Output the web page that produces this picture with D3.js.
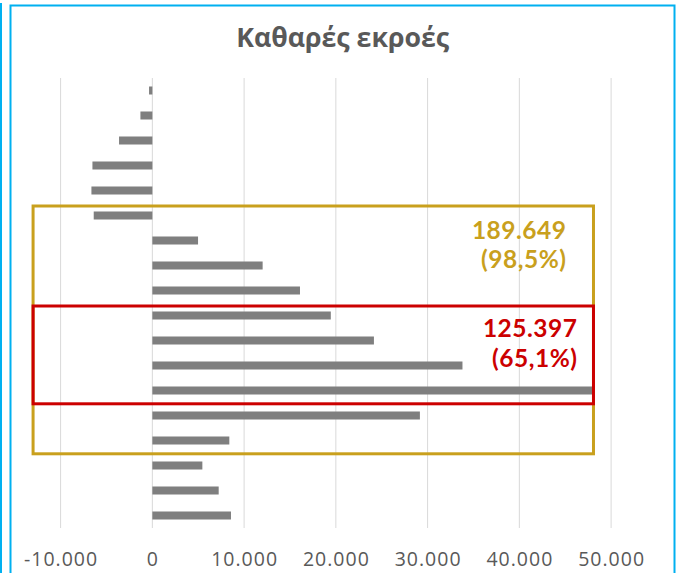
<!DOCTYPE html>
<html><head><meta charset="utf-8">
<script src="https://cdn.jsdelivr.net/npm/d3@7"></script>
<style>body{margin:0;background:#fff;} svg{display:block;}</style>
</head><body>
<svg id="chart" width="676" height="573"></svg>
<script>
// ---- data ----
const categories = ["1","2","3","4","5","6","7","8","9","10","11","12","13","14","15","16","17","18"];
const values = [-360, -1300, -3630, -6530, -6640, -6390, 4980, 12020, 16090, 19450, 24150, 33800, 48000, 29160, 8390, 5450, 7230, 8570];
const tickValues = [-10000, 0, 10000, 20000, 30000, 40000, 50000];
const titleText = "Καθαρές εκροές";
const outerRange = ["6", "15"];
const outerLabels = ["189.649", "(98,5%)"];
const innerRange = ["10", "13"];
const innerLabels = ["125.397", "(65,1%)"];

// ---- chart ----
const svg = d3.select("#chart");
const FONT = "'Open Sans', 'Noto Sans', sans-serif";
const ANN_FONT = "Lato, 'Liberation Sans', sans-serif";
const fmt = d3.formatLocale({decimal: ",", thousands: ".", grouping: [3], currency: ["", "€"], minus: "-"}).format(",d");

const x = d3.scaleLinear().domain([-10000, 50000]).range([60.6, 611.1]);
const y = d3.scaleBand().domain(categories).range([78, 528]).paddingInner(0.68).paddingOuter(0.34);

// frame
svg.append("line").attr("x1", 1).attr("x2", 1).attr("y1", 3).attr("y2", 573)
  .attr("stroke", "#00B0F0").attr("stroke-width", 2);
svg.append("rect").attr("x", 10.5).attr("y", 5.5).attr("width", 664).attr("height", 640)
  .attr("fill", "none").attr("stroke", "#00B0F0").attr("stroke-width", 2);

// title
svg.append("text").attr("x", 342.7).attr("y", 46.7).attr("text-anchor", "middle")
  .attr("font-family", FONT).attr("font-weight", 700).attr("font-size", 26)
  .attr("fill", "#595959").attr("textLength", 213).attr("lengthAdjust", "spacingAndGlyphs")
  .text(titleText);

// gridlines
svg.append("g").selectAll("line").data(tickValues).join("line")
  .attr("x1", d => x(d)).attr("x2", d => x(d)).attr("y1", 78).attr("y2", 528)
  .attr("stroke", "#d9d9d9").attr("stroke-width", 1);

// bars
svg.append("g").selectAll("rect").data(categories.map((c, i) => ({c, v: values[i]}))).join("rect")
  .attr("x", d => x(Math.min(0, d.v)))
  .attr("width", d => Math.abs(x(d.v) - x(0)))
  .attr("y", d => y(d.c))
  .attr("height", y.bandwidth())
  .attr("fill", "#7f7f7f");

// axis
const axis = svg.append("g").attr("transform", "translate(0,566)")
  .call(d3.axisBottom(x).tickValues(tickValues).tickFormat(fmt).tickSize(0).tickPadding(0));
axis.select(".domain").remove();
axis.selectAll("text").attr("y", 0).attr("dy", 0)
  .attr("font-family", FONT).attr("font-size", 19.5).attr("fill", "#595959")
  .attr("letter-spacing", "1px");

// annotation boxes
function box(range, color) {
  const top = y(range[0]) - 5.5;
  const bottom = y(range[1]) + y.bandwidth() + 9.3;
  const left = x(-13000), right = x(48080);
  svg.append("rect").attr("x", left).attr("y", top).attr("width", right - left).attr("height", bottom - top)
    .attr("fill", "none").attr("stroke", color).attr("stroke-width", 3);
  return {top, right};
}
const gold = "#C9A01D", red = "#CC0000";
box(outerRange, gold);
box(innerRange, red);

function labels(lines, color, xr, y0, dy) {
  const t = svg.append("text").attr("text-anchor", "end")
    .attr("font-family", ANN_FONT).attr("font-weight", 700).attr("font-size", 24.5)
    .attr("letter-spacing", "0.5px").attr("fill", color);
  t.selectAll("tspan").data(lines).join("tspan")
    .attr("x", xr).attr("y", (d, i) => y0 + i * dy).text(d => d);
}
labels(outerLabels, gold, 566.5, 238.5, 29.5);
labels(innerLabels, red, 577.5, 336.5, 30.5);
</script>
</body></html>
